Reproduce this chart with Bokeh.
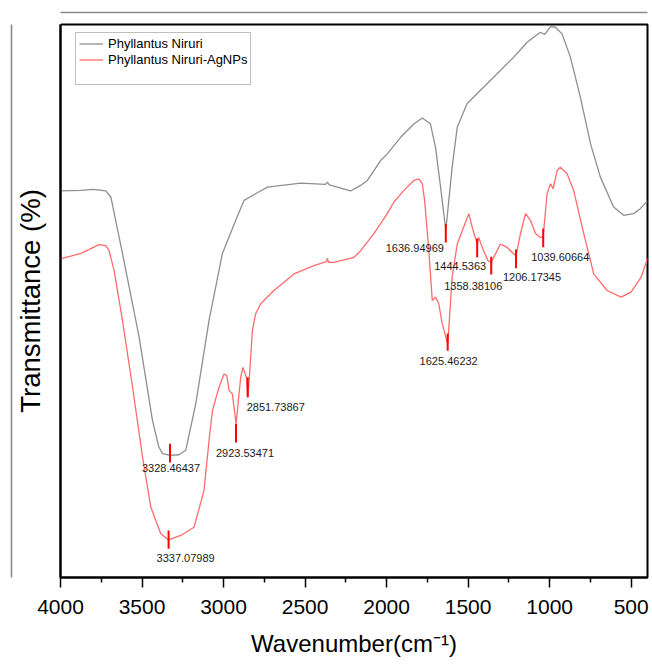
from bokeh.plotting import figure
from bokeh.models import (Range1d, FixedTicker, Legend, LegendItem, ColumnDataSource,
                          LinearAxis)
from bokeh.embed import file_html
from bokeh.resources import INLINE
from bokeh.core.properties import value

FONT = "Liberation Sans"

# ---------------- data ----------------
grey_wn = [4000, 3875, 3800, 3722, 3691, 3620, 3518, 3436, 3397, 3374,
           3328, 3273, 3232, 3170, 3089, 3007, 2925, 2874, 2803, 2731,
           2527, 2374, 2363, 2352, 2221, 2160, 2118, 2037, 1996, 1914,
           1833, 1781, 1731, 1700, 1669, 1637, 1598, 1567, 1506, 1424,
           1322, 1220, 1138, 1057, 1030, 995, 965, 924, 873, 812,
           750, 689, 608, 546, 485, 444, 400]
grey_T = [69.9, 70.0, 70.2, 69.9, 68.8, 58.6, 43.5, 28.4, 23.6, 22.4,
          22.1, 22.2, 23.0, 31.5, 46.5, 58.6, 64.6, 68.2, 69.4, 70.6,
          71.3, 71.1, 71.5, 71.0, 69.9, 70.9, 71.8, 75.4, 76.6, 79.6,
          82.0, 83.1, 82.0, 77.8, 70.6, 62.8, 74.2, 81.4, 85.7, 88.1,
          91.1, 94.1, 96.8, 98.6, 98.2, 99.6, 99.5, 98.3, 94.1, 86.9,
          78.5, 72.4, 67.0, 65.5, 65.8, 66.7, 68.1]

red_wn = [4000, 3875, 3763, 3722, 3702, 3671, 3620, 3558, 3497, 3446,
          3385, 3337, 3262, 3181, 3120, 3089, 3068, 3028, 2997, 2980,
          2966, 2946, 2923, 2895, 2881, 2860, 2852, 2843, 2823, 2803,
          2772, 2691, 2568, 2446, 2370, 2363, 2356, 2323, 2200, 2159,
          2078, 1996, 1955, 1894, 1833, 1802, 1781, 1767, 1741, 1720,
          1700, 1680, 1659, 1625, 1598, 1567, 1536, 1496, 1475, 1444,
          1435, 1414, 1379, 1358, 1343, 1302, 1261, 1220, 1206, 1179,
          1148, 1118, 1087, 1057, 1040, 1016, 995, 979, 954, 935,
          893, 853, 791, 730, 648, 562, 501, 439, 400]
red_T = [57.6, 58.6, 60.2, 60.0, 59.1, 55.5, 46.5, 34.4, 21.8, 12.7,
         7.9, 6.8, 7.6, 9.1, 15.7, 24.8, 30.2, 34.4, 36.8, 36.5,
         33.8, 33.2, 27.8, 36.2, 38.0, 36.2, 32.6, 35.6, 44.7, 47.7,
         49.5, 51.9, 54.9, 56.4, 57.1, 57.7, 57.0, 57.0, 57.9, 59.1,
         62.2, 65.8, 67.9, 70.0, 71.8, 72.1, 71.2, 68.2, 59.1, 50.1,
         50.7, 49.5, 45.9, 42.2, 54.3, 60.3, 62.7, 65.8, 63.3, 60.3,
         61.5, 59.7, 57.3, 57.0, 57.9, 60.3, 59.7, 58.5, 58.2, 62.2,
         65.8, 64.6, 62.2, 61.5, 61.5, 69.4, 71.2, 70.3, 73.6, 74.2,
         73.0, 70.0, 62.2, 54.9, 51.9, 50.7, 51.6, 54.3, 57.7]

peak_wn = [3328.46437, 3337.07989, 2923.53471, 2851.73867, 1636.94969,
           1625.46232, 1444.5363, 1358.38106, 1206.17345, 1039.60664]
peak_labels = ["3328.46437", "3337.07989", "2923.53471", "2851.73867", "1636.94969",
               "1625.46232", "1444.5363", "1358.38106", "1206.17345", "1039.60664"]
peak_top = [24.2, 8.5, 27.8, 36.2, 63.9, 44.1, 61.3, 58.0, 59.3, 63.1]
peak_bot = [20.8, 5.2, 24.4, 32.6, 60.6, 41.0, 57.9, 54.8, 55.9, 59.7]

x_ticks = [4000, 3500, 3000, 2500, 2000, 1500, 1000, 500]
x_minor = [3750, 3250, 2750, 2250, 1750, 1250, 750]

# label layout (pixel offsets from the tick's lower end)
lab_dx = [1, 17, 9, 28, -31, 1, -17, -18, 16, 17]
lab_dy = [6, 9, 10, 10, 6, 10, 9, 12, 9, 10]

# ---------------- figure ----------------
FL, FR, FT, FB = 60, 5, 24, 88
W, H = 652, 665
p = figure(width=W, height=H, output_backend="svg", toolbar_location=None,
           x_range=Range1d(4000, 400), y_range=Range1d(0, 100),
           min_border_left=FL, min_border_right=FR, min_border_top=FT,
           min_border_bottom=FB)

p.grid.visible = False
p.outline_line_color = "black"
p.outline_line_width = 2
p.background_fill_color = "white"
p.border_fill_color = "white"

# x axis
xa = p.xaxis[0]
xa.ticker = FixedTicker(ticks=x_ticks, minor_ticks=x_minor)
xa.axis_line_width = 2
xa.axis_line_color = "black"
xa.major_tick_out = 10
xa.major_tick_in = 0
xa.minor_tick_out = 5
xa.minor_tick_in = 0
xa.major_tick_line_width = 1.5
xa.minor_tick_line_width = 1.5
xa.major_label_text_font = FONT
xa.major_label_text_font_size = "21px"
xa.major_label_text_color = "black"
xa.major_label_standoff = 12
xa.axis_label = "Wavenumber(cm\u207b\u00b9)"
xa.axis_label_text_font = FONT
xa.axis_label_text_font_size = "24px"
xa.axis_label_text_font_style = "normal"
xa.axis_label_text_color = "black"
xa.axis_label_standoff = 13

# y axis
ya = p.yaxis[0]
ya.ticker = FixedTicker(ticks=[])
ya.axis_line_width = 2
ya.axis_line_color = "black"
ya.major_tick_line_color = None
ya.minor_tick_line_color = None
ya.axis_label = "Transmittance (%)"
ya.axis_label_text_font = FONT
ya.axis_label_text_font_size = "27.5px"
ya.axis_label_text_font_style = "normal"
ya.axis_label_text_color = "black"
ya.axis_label_standoff = 15


def edge_axis(line_color):
    """Axis with no ticks: used only for the grey page-frame edges."""
    return LinearAxis(ticker=FixedTicker(ticks=[]), axis_line_color=line_color,
                      axis_line_width=1.6, major_tick_out=0, major_tick_in=0,
                      minor_tick_out=0, minor_tick_in=0,
                      major_tick_line_color=None, minor_tick_line_color=None,
                      major_label_standoff=0)


# invisible spacer above the plot box (one white tick on the box's left edge)
spacer = LinearAxis(ticker=FixedTicker(ticks=[4000]), axis_line_color=None,
                    major_tick_out=12, major_tick_in=0, minor_tick_out=0,
                    minor_tick_in=0, major_tick_line_color="white",
                    major_tick_line_width=1, minor_tick_line_color=None,
                    major_label_overrides={4000: ""}, major_label_standoff=0,
                    major_label_text_font_size="0px", major_label_text_color=None)

# grey page frame: left edge outside the y title, top edge 12px above the plot box
p.add_layout(edge_axis("#8a8a8a"), "left")
p.add_layout(spacer, "above")
p.add_layout(edge_axis("#8a8a8a"), "above")

# spectra
r_grey = p.line(grey_wn, grey_T, line_color="#8f8f8f", line_width=1.3)
r_red = p.line(red_wn, red_T, line_color="#ff6b6b", line_width=1.3)
r_dummy = p.line([], [], line_alpha=0)

# peak markers
src = ColumnDataSource(dict(x=peak_wn, top=peak_top, bot=peak_bot,
                            label=peak_labels, dx=lab_dx, dy=lab_dy))
p.segment(x0="x", y0="top", x1="x", y1="bot", source=src,
          line_color="#ff0000", line_width=2)
p.text(x="x", y="bot", text="label", x_offset="dx", y_offset="dy", source=src,
       text_align="center", text_baseline="middle",
       text_font=value(FONT), text_font_size="11px", text_color="#1a1a1a")

# legend
legend = Legend(items=[LegendItem(label="Phyllantus Niruri", renderers=[r_grey]),
                       LegendItem(label="Phyllantus Niruri-AgNPs", renderers=[r_red]),
                       LegendItem(label=" ", renderers=[r_dummy])],
                location=(15, 492), margin=0, padding=3, spacing=1,
                label_height=13, glyph_height=13, glyph_width=24,
                label_standoff=5, label_text_font=FONT,
                label_text_font_size="13px", label_text_color="black",
                border_line_color="#808080", border_line_width=1,
                background_fill_color="white", background_fill_alpha=1)
p.add_layout(legend)

open("out.html", "w").write(file_html(p, INLINE))
